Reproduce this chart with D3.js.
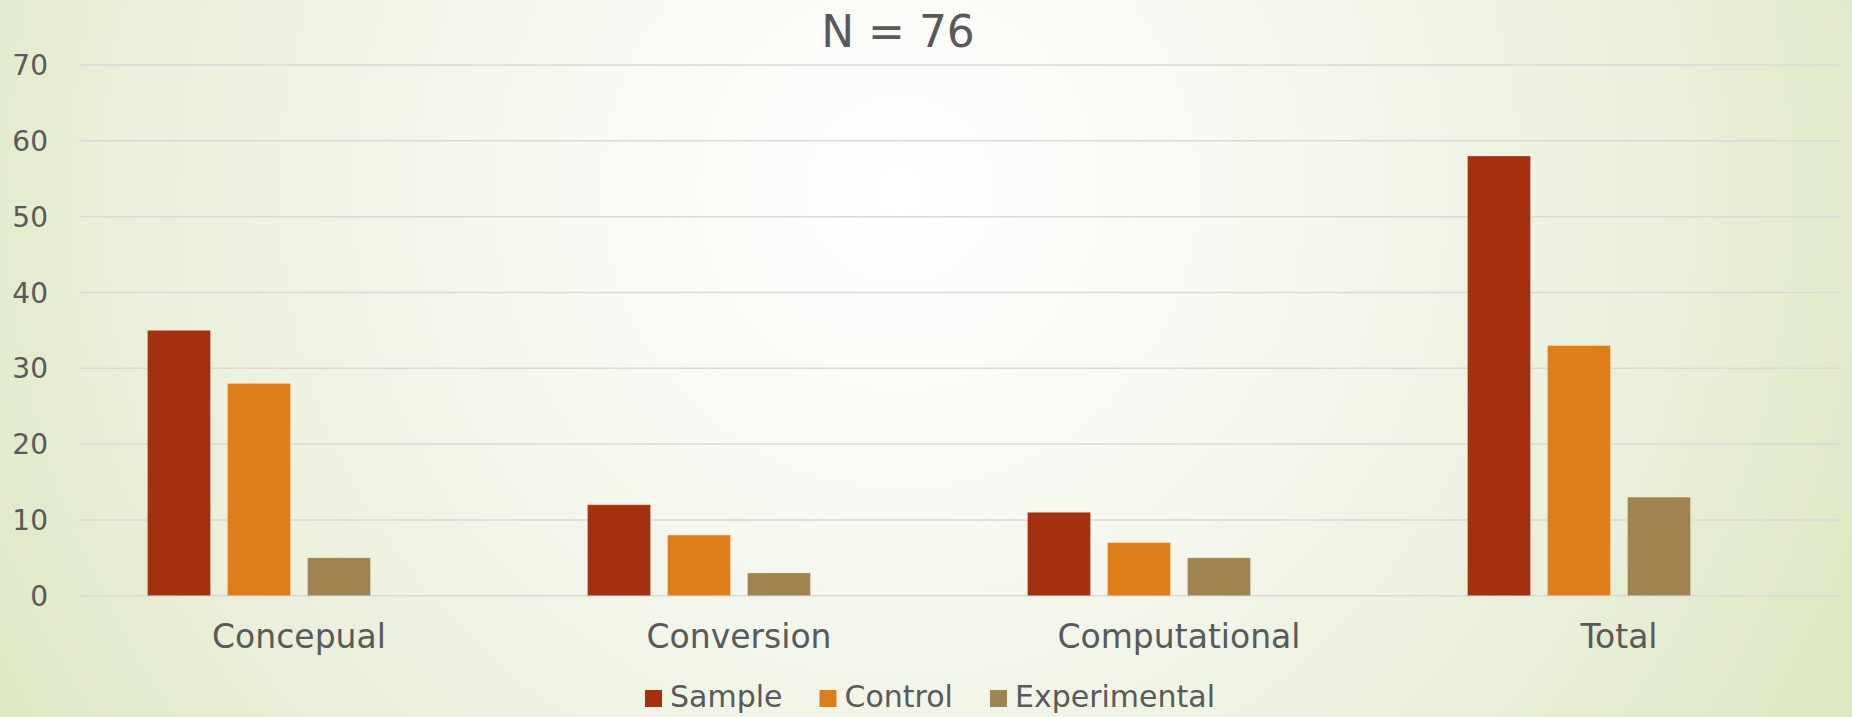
<!DOCTYPE html>
<html>
<head>
<meta charset="utf-8">
<script src="https://cdn.jsdelivr.net/npm/d3@7"></script>
<style>
  html, body { margin: 0; padding: 0; background: #ffffff; }
  svg { display: block; }
  text { font-family: "DejaVu Sans", "Noto Sans", sans-serif; fill: #595959; }
</style>
</head>
<body>
<svg id="chart" width="1852" height="717"></svg>
<script>
// ---- data ----
const categories = ["Concepual", "Conversion", "Computational", "Total"];
const seriesNames = ["Sample", "Control", "Experimental"];
const sampleValues = [35, 12, 11, 58];
const controlValues = [28, 8, 7, 33];
const experimentalValues = [5, 3, 5, 13];
const yTickValues = [0, 10, 20, 30, 40, 50, 60, 70];
const titleText = "N = 76";
const seriesColors = ["#A53010", "#DE7E18", "#9F8351"];
const seriesSlotCount = 4; // the original chart reserves a fourth (empty) series slot

const seriesValues = [sampleValues, controlValues, experimentalValues];

// ---- layout ----
const W = 1852, H = 717;
const plotLeft = 79, plotRight = 1839, plotTop = 65, plotBottom = 595.7;

const svg = d3.select("#chart");

// background gradient
const defs = svg.append("defs");
const grad = defs.append("radialGradient")
  .attr("id", "bg")
  .attr("gradientUnits", "userSpaceOnUse")
  .attr("cx", 900).attr("cy", 190).attr("r", 1050)
  .attr("fx", 900).attr("fy", 190);
grad.append("stop").attr("offset", "0").attr("stop-color", "#ffffff");
grad.append("stop").attr("offset", "0.35").attr("stop-color", "#f6f8f0");
grad.append("stop").attr("offset", "0.75").attr("stop-color", "#e9efd9");
grad.append("stop").attr("offset", "1").attr("stop-color", "#dde7c2");
svg.append("rect").attr("width", W).attr("height", H).attr("fill", "url(#bg)");

// scales
const x0 = d3.scaleBand().domain(categories).range([plotLeft, plotRight]).paddingInner(0).paddingOuter(0);
const x1 = d3.scaleBand().domain(d3.range(seriesSlotCount)).range([0, x0.bandwidth()])
  .paddingInner(0.2125).paddingOuter(0.856);
const y = d3.scaleLinear().domain([0, 70]).range([plotBottom, plotTop]);

// gridlines
svg.append("g").selectAll("line").data(yTickValues).join("line")
  .attr("x1", plotLeft).attr("x2", plotRight)
  .attr("y1", d => y(d)).attr("y2", d => y(d))
  .attr("stroke", "#d9d9d9").attr("stroke-width", 1.5);

// y axis labels
svg.append("g").selectAll("text").data(yTickValues).join("text")
  .attr("x", 48).attr("y", d => y(d)).attr("dy", "0.36em")
  .attr("text-anchor", "end").attr("font-size", 28)
  .text(d => d);

// bars
const groups = svg.append("g").selectAll("g").data(categories).join("g")
  .attr("transform", d => `translate(${x0(d)},0)`);
groups.selectAll("rect")
  .data((c, ci) => seriesNames.map((s, si) => ({ si, v: seriesValues[si][ci] })))
  .join("rect")
  .attr("x", d => x1(d.si))
  .attr("width", x1.bandwidth())
  .attr("y", d => y(d.v))
  .attr("height", d => y(0) - y(d.v))
  .attr("fill", d => seriesColors[d.si])
  .attr("stroke", "rgba(255,255,255,0.25)")
  .attr("stroke-width", 1);

// category labels
svg.append("g").selectAll("text").data(categories).join("text")
  .attr("x", d => x0(d) + x0.bandwidth() / 2)
  .attr("y", 648)
  .attr("text-anchor", "middle").attr("font-size", 33)
  .text(d => d);

// title
svg.append("text")
  .attr("x", 898).attr("y", 47)
  .attr("text-anchor", "middle").attr("font-size", 44)
  .text(titleText);

// legend
const legend = svg.append("g");
let lx = 645;
seriesNames.forEach((name, i) => {
  legend.append("rect")
    .attr("x", lx).attr("y", 690).attr("width", 17).attr("height", 17)
    .attr("fill", seriesColors[i]);
  const t = legend.append("text")
    .attr("x", lx + 25).attr("y", 707)
    .attr("font-size", 30)
    .text(name);
  lx = lx + 25 + t.node().getComputedTextLength() + 37;
});
</script>
</body>
</html>
